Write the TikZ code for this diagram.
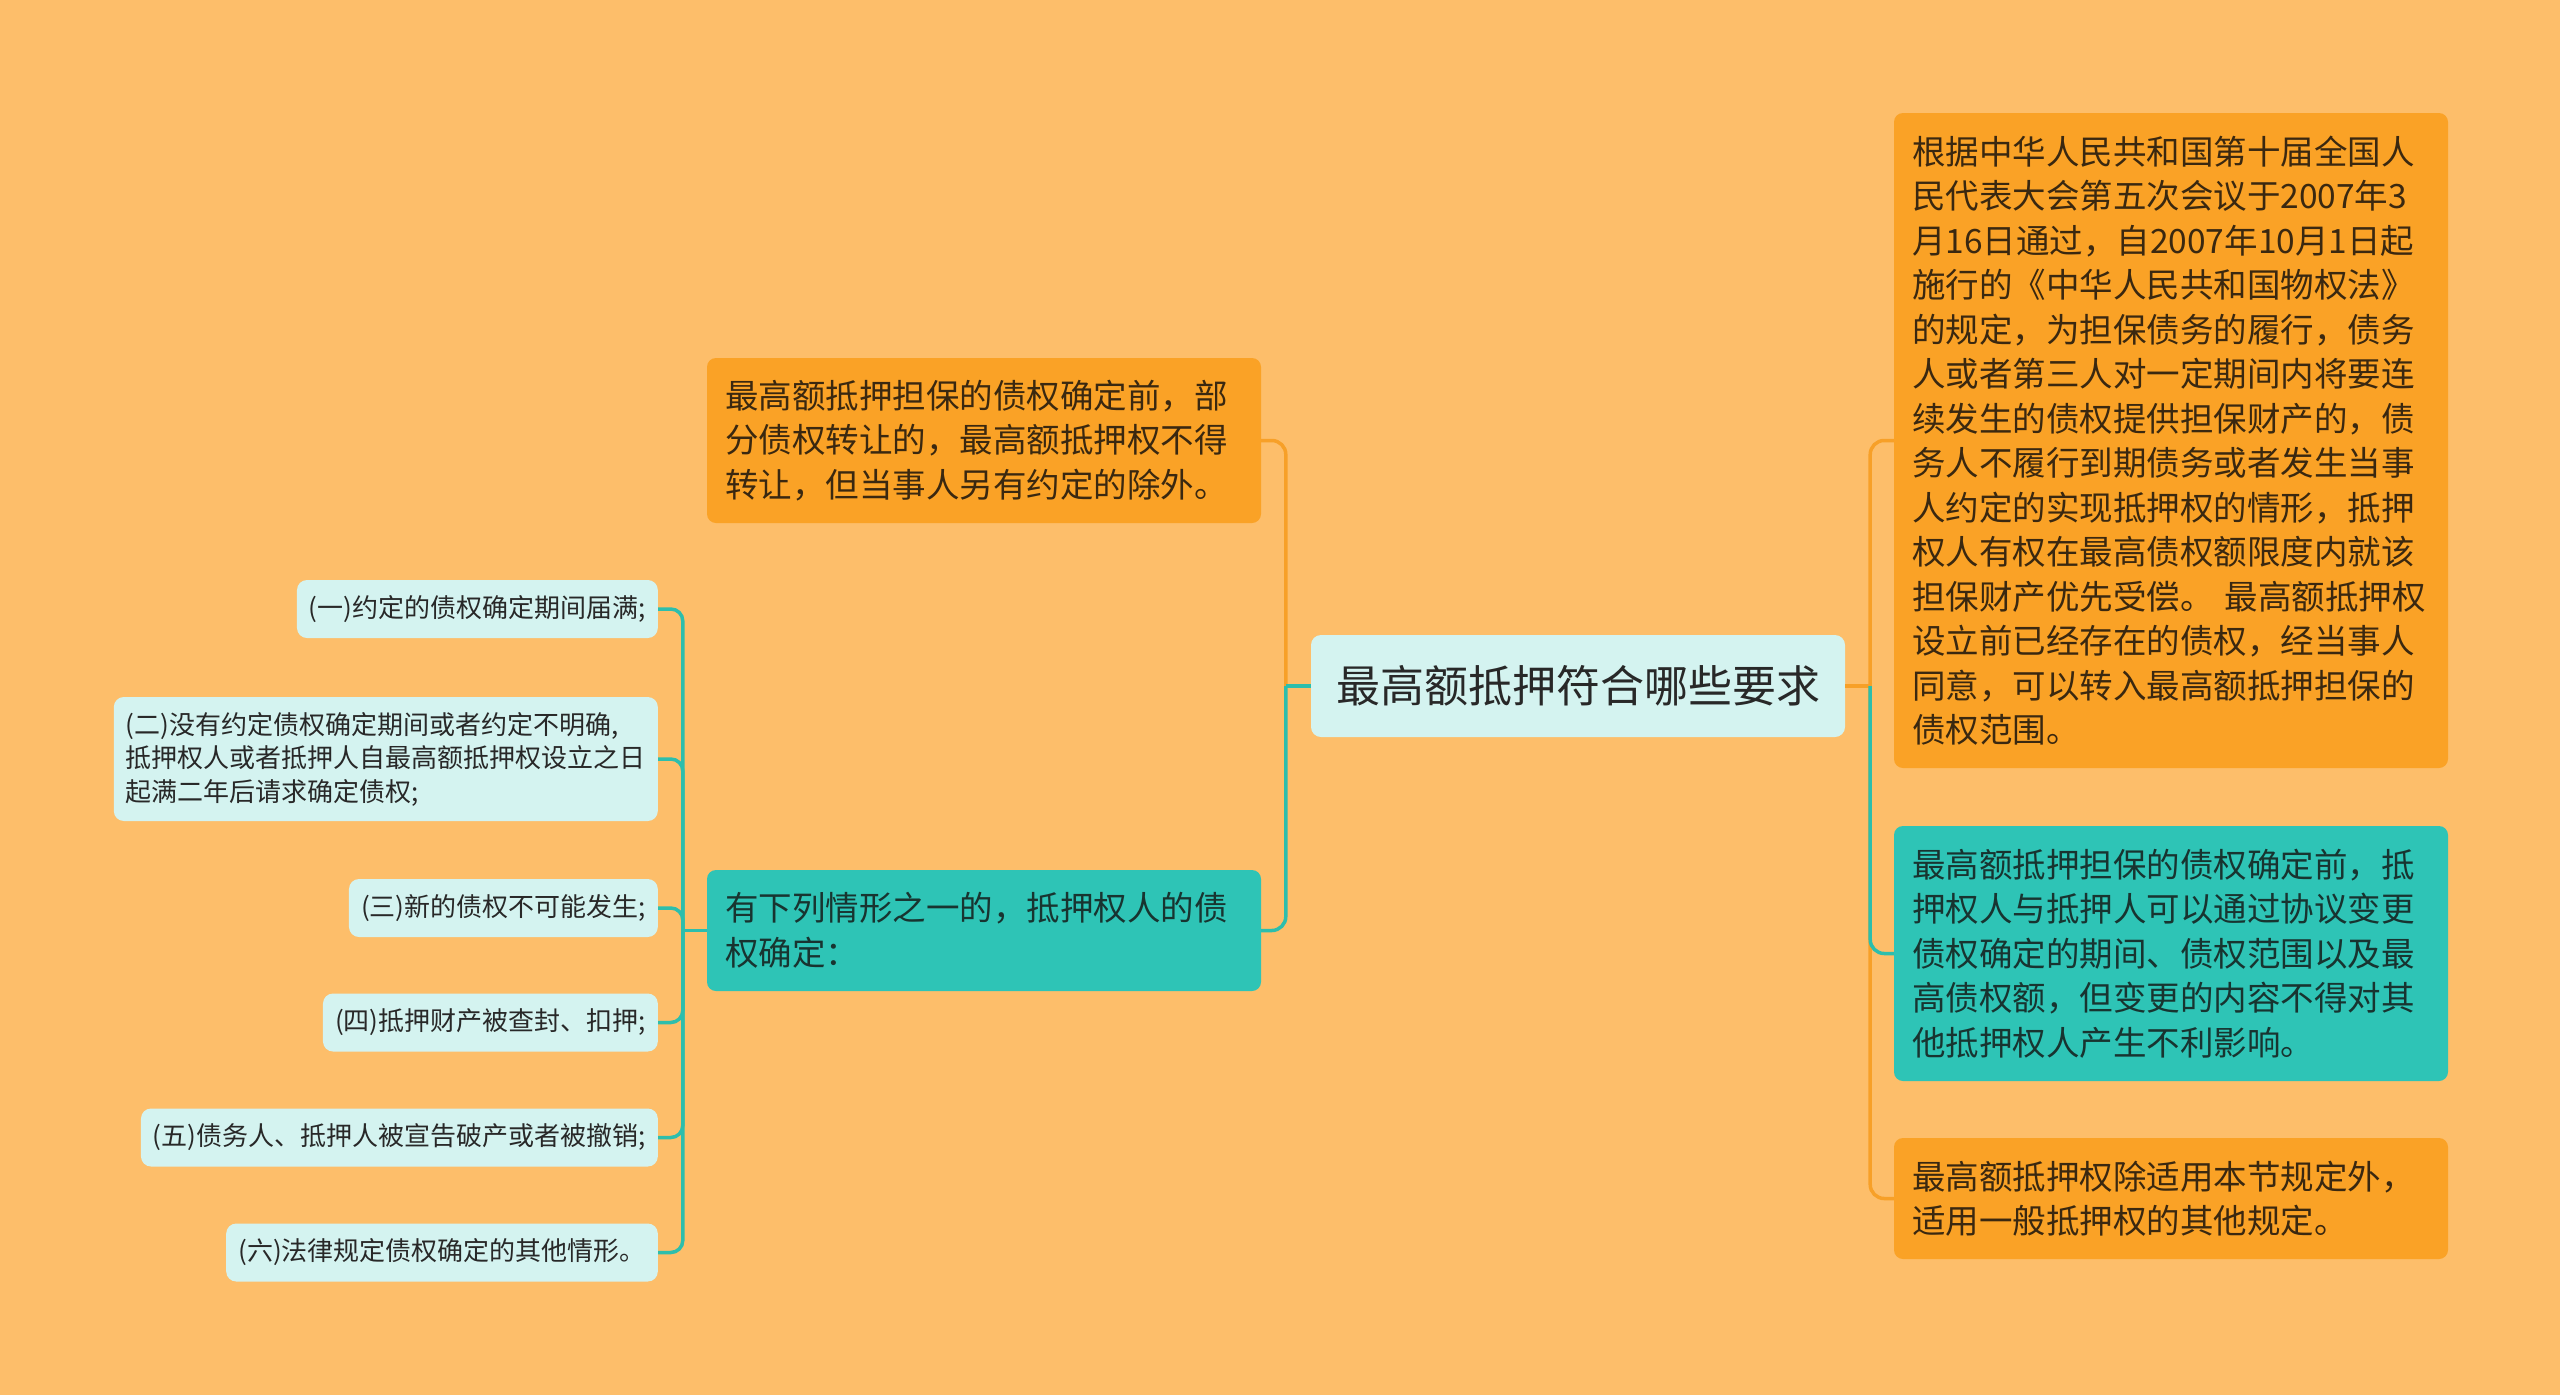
\documentclass[tikz,border=0pt]{standalone}
\usepackage{fontspec}
\setmainfont{Noto Sans CJK SC}
\usepackage{xcolor}
\usepackage{tikz}
\usetikzlibrary{positioning}
\definecolor{mapbg}{RGB}{253,190,106}
\definecolor{maporange}{RGB}{250,162,38}
\definecolor{mapteal}{RGB}{46,196,182}
\definecolor{mappale}{RGB}{212,243,240}
\definecolor{mapbrown}{RGB}{58,40,16}
\definecolor{mapdark}{RGB}{24,52,48}
\definecolor{maptext}{RGB}{40,40,40}
\definecolor{mapoline}{RGB}{247,160,40}
\definecolor{maptline}{RGB}{45,190,172}

\begin{document}
\begin{tikzpicture}[x=1pt,y=-1pt,
    box/.style={rounded corners=9pt, inner xsep=18pt, inner ysep=0pt, align=left, text width=518pt, font=\fontsize{33.5}{44.5}\selectfont},
    orangebox/.style={box, fill=maporange, text=mapbrown},
    tealbox/.style={box, fill=mapteal, text=mapdark},
    leafbox/.style={rounded corners=10pt, fill=mappale, text=maptext, inner xsep=12pt, inner ysep=0pt, minimum height=58pt, anchor=east, align=left, font=\fontsize{26}{33.5}\selectfont},
    oline/.style={draw=mapoline, line width=3.5pt},
    tline/.style={draw=maptline, line width=3.5pt}]
    % background
    \fill[mapbg] (0,0) rectangle (2560,1395);
    \useasboundingbox (0,0) rectangle (2560,1395);
    % root
    \node[rounded corners=10pt, fill=mappale, text=maptext, minimum width=534pt, minimum height=102pt, font=\fontsize{44}{52}\selectfont] (root) at (1578,686) {最高额抵押符合哪些要求};
    % left side
    \node[orangebox, minimum height=165pt] (fore) at (984,440.5) {最高额抵押担保的债权确定前，部\\分债权转让的，最高额抵押权不得\\转让，但当事人另有约定的除外。};
    \node[tealbox, minimum height=121pt] (cases) at (984,930.5) {有下列情形之一的，抵押权人的债\\权确定：};
    % right side
    \node[orangebox, minimum height=655pt] (law) at (2171,440.5) {根据中华人民共和国第十届全国人\\民代表大会第五次会议于2007年3\\月16日通过，自2007年10月1日起\\施行的《中华人民共和国物权法》\\的规定，为担保债务的履行，债务\\人或者第三人对一定期间内将要连\\续发生的债权提供担保财产的，债\\务人不履行到期债务或者发生当事\\人约定的实现抵押权的情形，抵押\\权人有权在最高债权额限度内就该\\担保财产优先受偿。 最高额抵押权\\设立前已经存在的债权，经当事人\\同意，可以转入最高额抵押担保的\\债权范围。};
    \node[tealbox, minimum height=255pt] (change) at (2171,953.5) {最高额抵押担保的债权确定前，抵\\押权人与抵押人可以通过协议变更\\债权确定的期间、债权范围以及最\\高债权额，但变更的内容不得对其\\他抵押权人产生不利影响。};
    \node[orangebox, minimum height=121pt] (other) at (2171,1198.5) {最高额抵押权除适用本节规定外，\\适用一般抵押权的其他规定。};
    % leaves of the cases node
    \node[leafbox] (c1) at (658,609) {(一)约定的债权确定期间届满;};
    \node[leafbox, minimum height=124pt] (c2) at (658,759) {(二)没有约定债权确定期间或者约定不明确,\\抵押权人或者抵押人自最高额抵押权设立之日\\起满二年后请求确定债权;};
    \node[leafbox] (c3) at (658,908) {(三)新的债权不可能发生;};
    \node[leafbox] (c4) at (658,1022.5) {(四)抵押财产被查封、扣押;};
    \node[leafbox] (c5) at (658,1137.5) {(五)债务人、抵押人被宣告破产或者被撤销;};
    \node[leafbox] (c6) at (658,1252.5) {(六)法律规定债权确定的其他情形。};
    % junctions
    \coordinate[left=25pt of root.west] (jl);
    \coordinate[right=25pt of root.east] (jr);
    \coordinate[left=24pt of cases.west] (jc);
    % root to left
    \draw[oline, rounded corners=14pt] (jl) |- (fore.east);
    \draw[tline, rounded corners=14pt] (jl) |- (cases.east);
    \draw[tline] (root.west) -- (jl);
    % root to right
    \draw[oline] (root.east) -- (jr);
    \draw[oline, rounded corners=14pt] (jr) |- (law.west);
    \draw[oline, rounded corners=14pt] (jr) |- (other.west);
    \draw[tline, rounded corners=14pt] (jr) |- (change.west);
    % cases to leaves
    \draw[tline] (cases.west) -- (jc);
    \draw[tline, rounded corners=12pt] (jc) |- (c1.east);
    \draw[tline, rounded corners=12pt] (jc) |- (c2.east);
    \draw[tline, rounded corners=12pt] (jc) |- (c3.east);
    \draw[tline, rounded corners=12pt] (jc) |- (c4.east);
    \draw[tline, rounded corners=12pt] (jc) |- (c5.east);
    \draw[tline, rounded corners=12pt] (jc) |- (c6.east);
\end{tikzpicture}
\end{document}
